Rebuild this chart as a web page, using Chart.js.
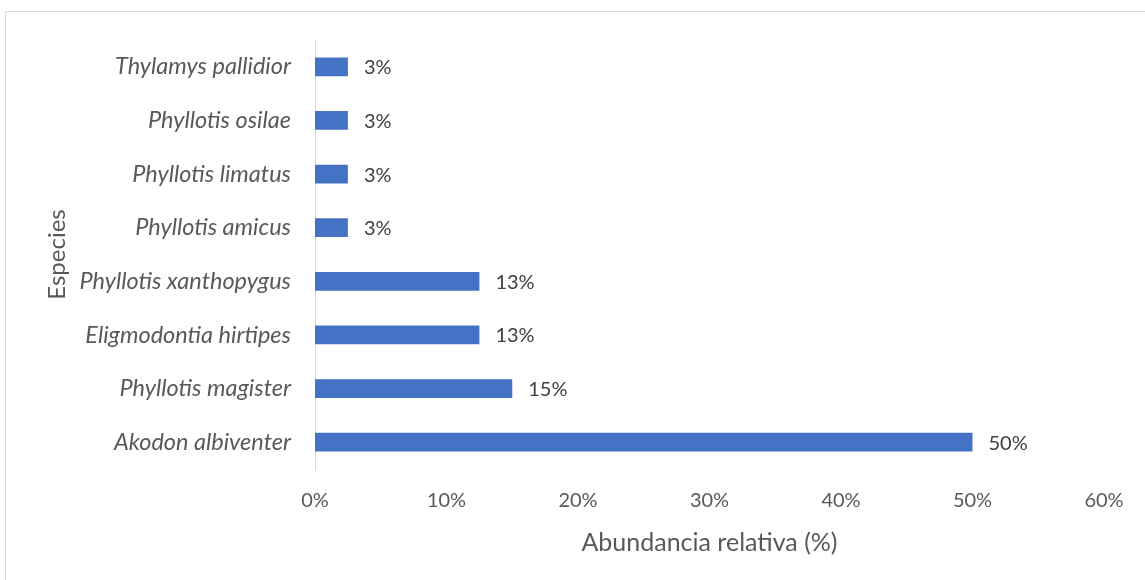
<!DOCTYPE html>
<html>
<head>
<meta charset="utf-8">
<script src="https://cdn.jsdelivr.net/npm/chart.js@4.4.1/dist/chart.umd.min.js"></script>
<style>
  html, body { margin: 0; padding: 0; background: #fff; overflow: hidden; }
  #frame { position: absolute; left: 5px; top: 11px; width: 1200px; height: 640px; border: 1px solid #d9d9d9; }
  #wrap { position: absolute; left: 0; top: 0; width: 1145px; height: 580px; }
</style>
</head>
<body>
<div id="frame"></div>
<div id="wrap"><canvas id="chart"></canvas></div>
<script>
// especies (de arriba hacia abajo, como en el gráfico)
const especies = [
    'Thylamys pallidior',
    'Phyllotis osilae',
    'Phyllotis limatus',
    'Phyllotis amicus',
    'Phyllotis xanthopygus',
    'Eligmodontia hirtipes',
    'Phyllotis magister',
    'Akodon albiventer'
];
// abundancia relativa (%)
const abundancia = [2.5, 2.5, 2.5, 2.5, 12.5, 12.5, 15, 50];
const xTicks = [0, 10, 20, 30, 40, 50, 60];

const FONT = "Lato, 'Open Sans', sans-serif";

// etiquetas de datos al final de cada barra
const barLabels = {
    id: 'barLabels',
    afterDatasetsDraw(chart) {
        const ctx = chart.ctx;
        const meta = chart.getDatasetMeta(0);
        ctx.save();
        ctx.font = `20px ${FONT}`;
        ctx.fillStyle = '#404040';
        ctx.textAlign = 'left';
        ctx.textBaseline = 'middle';
        meta.data.forEach((bar, i) => {
            ctx.fillText(Math.round(abundancia[i]) + '%', bar.x + 16, bar.y + 1);
        });
        ctx.restore();
    }
};

new Chart(document.getElementById('chart'), {
    type: 'bar',
    data: {
        labels: especies,
        datasets: [{
            data: abundancia,
            backgroundColor: '#4472C4',
            borderWidth: 0,
            categoryPercentage: 0.5,
            barPercentage: 0.7
        }]
    },
    options: {
        indexAxis: 'y',
        responsive: true,
        maintainAspectRatio: false,
        animation: false,
        layout: { padding: { top: 40, right: 41, bottom: 11, left: 0 } },
        plugins: { legend: { display: false }, tooltip: { enabled: false } },
        scales: {
            x: {
                min: 0, max: 60,
                afterBuildTicks: (s) => { s.ticks = xTicks.map(v => ({ value: v })); },
                afterFit: (s) => { s.height = 100; },
                grid: { display: false, drawTicks: false },
                border: { display: false },
                ticks: {
                    padding: 20,
                    color: '#595959',
                    font: { family: FONT, size: 20 },
                    callback: (v) => v + '%'
                },
                title: {
                    display: true,
                    text: 'Abundancia relativa (%)',
                    color: '#595959',
                    font: { family: FONT, size: 25 },
                    padding: { top: 0, bottom: 11 }
                }
            },
            y: {
                afterFit: (s) => { s.width = 315; },
                grid: { display: false, drawTicks: false },
                border: { display: true, color: '#d9d9d9', width: 1 },
                ticks: {
                    padding: 24,
                    color: '#595959',
                    font: { family: FONT, size: 23.5, style: 'italic' }
                },
                title: {
                    display: true,
                    text: 'Especies',
                    color: '#595959',
                    font: { family: FONT, size: 24 },
                    padding: { top: 43, bottom: 0 }
                }
            }
        }
    },
    plugins: [barLabels]
});
</script>
</body>
</html>
